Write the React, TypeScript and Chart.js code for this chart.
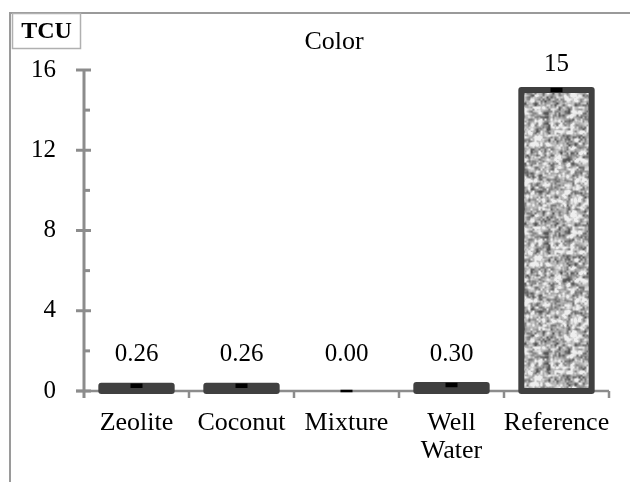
import React, { useEffect, useRef } from "react";
import { Chart, registerables } from "chart.js";
Chart.register(...registerables);

const categories: (string | string[])[] = ["Zeolite", "Coconut", "Mixture", ["Well", "Water"], "Reference"];
const values = [0.26, 0.26, 0.0, 0.3, 15];
const errors = [0.05, 0.05, 0.0, 0.05, 0.05];
const valueLabels = ["0.26", "0.26", "0.00", "0.30", "15"];
const yMajorTicks = [0, 4, 8, 12, 16];
const yMinorTicks = [2, 6, 10, 14];
const chartTitle = "Color";
const unitLabel = "TCU";

const FONT = "'Liberation Serif', 'Times New Roman', serif";
const AXIS = "#8c8c8c";
const OUTLINE = "#404040";

function hash(i: number, j: number) {
  const s = Math.sin(i * 127.1 + j * 311.7) * 43758.5453;
  return s - Math.floor(s);
}

function makeTexture(): HTMLCanvasElement {
  const size = 120;
  const c = document.createElement("canvas");
  c.width = size;
  c.height = size;
  const ctx = c.getContext("2d")!;
  const img = ctx.createImageData(size, size);
  const noise = (x: number, y: number, cell: number, period: number) => {
    const gx = x / cell, gy = y / cell;
    const x0 = Math.floor(gx), y0 = Math.floor(gy);
    const fx = gx - x0, fy = gy - y0;
    const sx = fx * fx * (3 - 2 * fx), sy = fy * fy * (3 - 2 * fy);
    const p = (a: number, b: number) => hash(((a % period) + period) % period, ((b % period) + period) % period);
    const a = p(x0, y0), b = p(x0 + 1, y0), cc = p(x0, y0 + 1), d = p(x0 + 1, y0 + 1);
    return (a * (1 - sx) + b * sx) * (1 - sy) + (cc * (1 - sx) + d * sx) * sy;
  };
  for (let y = 0; y < size; y++) {
    for (let x = 0; x < size; x++) {
      const n = 0.6 * noise(x, y, 4, size / 4) + 0.4 * noise(x + 7, y + 3, 2, size / 2);
      let v = 55 + n * 250;
      v = Math.max(85, Math.min(238, v));
      const k = (y * size + x) * 4;
      img.data[k] = v;
      img.data[k + 1] = v;
      img.data[k + 2] = v;
      img.data[k + 3] = 255;
    }
  }
  ctx.putImageData(img, 0, 0);
  return c;
}

const decorPlugin = {
  id: "decor",
  beforeDraw(chart: any) {
    const ctx = chart.ctx as CanvasRenderingContext2D;
    ctx.save();
    ctx.fillStyle = "#ffffff";
    ctx.fillRect(0, 0, chart.width, chart.height);
    // frame lines
    ctx.strokeStyle = "#9a9a9a";
    ctx.lineWidth = 2;
    ctx.beginPath();
    ctx.moveTo(10, chart.height);
    ctx.lineTo(10, 13);
    ctx.lineTo(chart.width, 13);
    ctx.stroke();
    // unit box
    ctx.strokeStyle = "#b0b0b0";
    ctx.lineWidth = 1.5;
    ctx.strokeRect(12.5, 13.5, 68, 35);
    ctx.fillStyle = "#000";
    ctx.font = `bold 24px ${FONT}`;
    ctx.textAlign = "center";
    ctx.textBaseline = "middle";
    ctx.fillText(unitLabel, 46.5, 31.5);
    // title
    ctx.font = `26px ${FONT}`;
    ctx.fillText(chartTitle, 334, 42);
    ctx.restore();
  },
  afterDatasetsDraw(chart: any) {
    const ctx = chart.ctx as CanvasRenderingContext2D;
    const xs = chart.scales.x;
    const ys = chart.scales.y;
    const left = chart.chartArea.left;
    const right = chart.chartArea.right;
    const y0 = ys.getPixelForValue(0);
    ctx.save();
    ctx.strokeStyle = AXIS;
    ctx.lineCap = "butt";
    // y axis
    ctx.lineWidth = 3;
    ctx.beginPath();
    ctx.moveTo(left, ys.getPixelForValue(16));
    ctx.lineTo(left, y0 + 7);
    ctx.stroke();
    for (const t of yMajorTicks) {
      const y = ys.getPixelForValue(t);
      ctx.beginPath();
      ctx.moveTo(left - 8, y);
      ctx.lineTo(left + 7, y);
      ctx.stroke();
    }
    for (const t of yMinorTicks) {
      const y = ys.getPixelForValue(t);
      ctx.beginPath();
      ctx.moveTo(left, y);
      ctx.lineTo(left + 6, y);
      ctx.stroke();
    }
    // x axis
    ctx.lineWidth = 2.5;
    ctx.beginPath();
    ctx.moveTo(left - 8, y0);
    ctx.lineTo(right, y0);
    ctx.stroke();
    const n = categories.length;
    for (let i = 1; i <= n; i++) {
      const x = (xs.getPixelForValue(i - 1) + (i < n ? xs.getPixelForValue(i) : 2 * xs.getPixelForValue(i - 1) - xs.getPixelForValue(i - 2))) / 2;
      ctx.beginPath();
      ctx.moveTo(x, y0);
      ctx.lineTo(x, y0 + 7);
      ctx.stroke();
    }
    // bar outlines
    const meta = chart.getDatasetMeta(0);
    meta.data.forEach((el: any, i: number) => {
      if (values[i] === 0) return;
      const w = el.width;
      ctx.strokeStyle = OUTLINE;
      ctx.lineWidth = 6;
      ctx.lineJoin = "round";
      ctx.strokeRect(el.x - w / 2, el.y, w, el.base - el.y);
    });
    // error bars
    ctx.strokeStyle = "#000";
    ctx.lineWidth = 2.5;
    meta.data.forEach((el: any, i: number) => {
      const hi = ys.getPixelForValue(values[i] + errors[i]);
      const lo = ys.getPixelForValue(Math.max(0, values[i] - errors[i]));
      ctx.beginPath();
      ctx.moveTo(el.x - 6, hi);
      ctx.lineTo(el.x + 6, hi);
      ctx.moveTo(el.x - 6, lo);
      ctx.lineTo(el.x + 6, lo);
      ctx.moveTo(el.x, hi);
      ctx.lineTo(el.x, lo);
      ctx.stroke();
    });
    // value labels
    ctx.fillStyle = "#000";
    ctx.font = `25px ${FONT}`;
    ctx.textAlign = "center";
    ctx.textBaseline = "alphabetic";
    meta.data.forEach((el: any, i: number) => {
      const y = Math.min(el.y - 19, 361);
      ctx.fillText(valueLabels[i], el.x, y);
    });
    ctx.restore();
  },
};

export default function App() {
  const ref = useRef<HTMLCanvasElement | null>(null);
  useEffect(() => {
    if (!ref.current) return;
    const tex = makeTexture();
    const pctx = ref.current.getContext("2d")!;
    const pattern = pctx.createPattern(tex, "repeat")!;
    const chart = new Chart(ref.current, {
      type: "bar",
      data: {
        labels: categories as any,
        datasets: [
          {
            data: values,
            backgroundColor: pattern as any,
            borderWidth: 0,
            barPercentage: 0.67,
            categoryPercentage: 1,
          },
        ],
      },
      options: {
        responsive: false,
        devicePixelRatio: 1,
        animation: false,
        layout: { padding: { top: 70, right: 21, bottom: 0, left: 0 } },
        plugins: { legend: { display: false }, tooltip: { enabled: false }, title: { display: false } },
        scales: {
          x: {
            grid: { display: false },
            border: { display: false },
            ticks: { color: "#000", font: { family: FONT, size: 26, lineHeight: 1.08 }, padding: 10, maxRotation: 0, autoSkip: false },
            afterFit: (s: any) => {
              s.height = 91;
            },
          },
          y: {
            min: 0,
            max: 16,
            grid: { display: false },
            border: { display: false },
            ticks: { stepSize: 4, color: "#000", font: { family: FONT, size: 25 }, padding: 20 },
            afterFit: (s: any) => {
              s.width = 84;
            },
          },
        },
      },
      plugins: [decorPlugin],
    });
    return () => chart.destroy();
  }, []);
  return (
    <div style={{ position: "absolute", left: 0, top: 0, width: 630, height: 482 }}>
      <canvas ref={ref} width={630} height={482} style={{ display: "block" }} />
    </div>
  );
}
